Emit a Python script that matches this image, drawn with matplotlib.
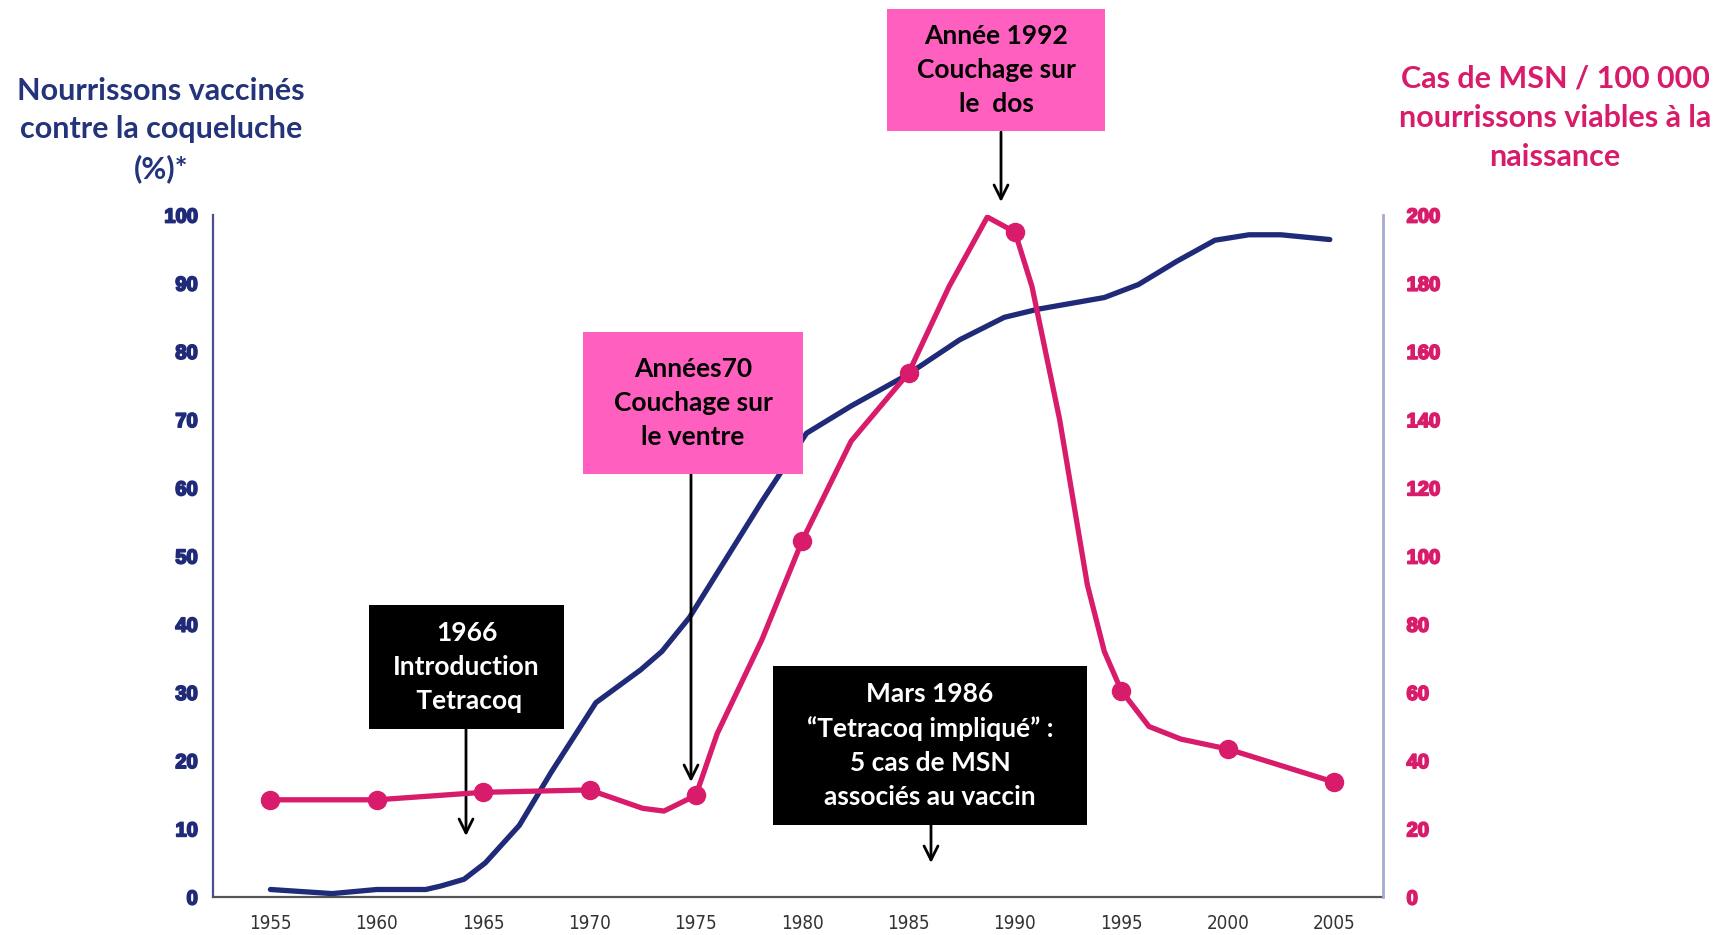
import matplotlib
matplotlib.use('Agg')
import matplotlib.pyplot as plt
import matplotlib.patches as patches
import matplotlib.patheffects as pe

# vaccination coverage (%), left axis
vacc_years = [1955, 1957.9, 1960, 1962.3, 1963, 1964.1, 1965.1, 1966.7, 1968.2, 1970.3,
              1972.4, 1973.4, 1974.7, 1976.5, 1978.1, 1980.2, 1982.3, 1984.9, 1987.4,
              1989.5, 1991.1, 1994.2, 1995.8, 1997.6, 1999.4, 2001, 2002.5, 2004.8]
vacc_pct = [1.1, 0.5, 1.1, 1.1, 1.6, 2.6, 5, 10.5, 18.3, 28.5,
            33.3, 36, 41, 50, 58, 68, 72, 76.5, 81.7,
            85, 86.2, 87.9, 89.8, 93.2, 96.3, 97.1, 97.1, 96.4]

# SIDS cases / 100 000 live births, right axis
msn_years = [1955, 1960, 1965, 1970, 1972.5, 1973.5, 1975, 1976, 1978.1, 1980, 1982.3,
             1985, 1986.9, 1988.7, 1990, 1990.8, 1992.1, 1993.4, 1994.2, 1995,
             1996.3, 1997.8, 2000, 2005]
msn_cases = [28.5, 28.5, 30.7, 31.4, 26, 25.2, 29.8, 47.9, 75.4, 104.5, 133.7,
             153.7, 179, 199.4, 195, 179, 140, 91.6, 72, 60.5,
             50, 46.3, 43.4, 33.7]
marker_years = [1955, 1960, 1965, 1970, 1975, 1980, 1985, 1990, 1995, 2000, 2005]
marker_cases = [28.5, 28.5, 30.7, 31.4, 29.8, 104.5, 153.7, 195, 60.5, 43.4, 33.7]

year_ticks = list(range(1955, 2006, 5))
left_ticks = list(range(0, 101, 10))
right_ticks = list(range(0, 201, 20))

navy = '#1f2a78'
pink = '#d81b6a'
boxpink = '#ff5fbf'
W, H = 1731, 935

def fx(px):
    return px / W

def fy(py):
    return 1 - py / H

fig = plt.figure(figsize=(17.31, 9.35), dpi=100)
ax = fig.add_axes([fx(213), fy(897), fx(1383) - fx(213), fy(215) - fy(897)])
ax2 = ax.twinx()

ax.plot(vacc_years, vacc_pct, color=navy, lw=3.8, solid_capstyle='round',
        solid_joinstyle='round', zorder=3)
ax2.plot(msn_years, msn_cases, color=pink, lw=3.8, solid_capstyle='round',
         solid_joinstyle='round', zorder=3)
ax2.plot(marker_years, marker_cases, 'o', color=pink, ms=13, zorder=4)

ax.set_xlim(1952.3, 2007.3)
ax.set_ylim(0, 100)
ax2.set_ylim(0, 200)

tickfont = ['Liberation Sans', 'DejaVu Sans']
ax.set_xticks(year_ticks, [str(y) for y in year_ticks],
              family=['Liberation Sans Narrow', 'DejaVu Sans'], fontstretch='condensed')
ax.set_yticks(left_ticks, [str(v) for v in left_ticks], family=tickfont, fontweight='bold',
              path_effects=[pe.withStroke(linewidth=1.3, foreground=navy)])
ax2.set_yticks(right_ticks, [str(v) for v in right_ticks], family=tickfont, fontweight='bold',
               path_effects=[pe.withStroke(linewidth=1.3, foreground=pink)])

ax.tick_params(axis='x', length=0, pad=12, labelsize=13.5, labelcolor='#333333')
ax.tick_params(axis='y', length=0, pad=11, labelsize=14.5, labelcolor=navy)
ax2.tick_params(axis='y', length=0, pad=17, labelsize=14.5, labelcolor=pink)

for a in (ax, ax2):
    a.spines['top'].set_visible(False)
ax.spines['left'].set_color('#4a4f90')
ax.spines['left'].set_linewidth(1.6)
ax.spines['bottom'].set_color('#555555')
ax.spines['bottom'].set_linewidth(1.6)
ax.spines['right'].set_visible(False)
ax2.spines['left'].set_visible(False)
ax2.spines['bottom'].set_visible(False)
ax2.spines['right'].set_color('#a8a8d0')
ax2.spines['right'].set_linewidth(2)

font = ['Lato', 'DejaVu Sans']

fig.text(fx(161), fy(130), 'Nourrissons vaccinés\ncontre la coqueluche\n(%)*',
         ha='center', va='center', color='#23347a', fontsize=22, fontweight='bold',
         family=font, linespacing=1.45)
fig.text(fx(1555), fy(118), 'Cas de MSN / 100 000\nnourrissons viables à la\nnaissance',
         ha='center', va='center', color=pink, fontsize=22, fontweight='bold',
         family=font, linespacing=1.5)

# annotation boxes: (x0, y0, x1, y1) in pixels, text, face, text colour, arrow
boxes = [
    ((887, 9, 1105, 131), 'Année 1992\nCouchage sur\nle  dos', boxpink, 'black', (1001, 132, 1001, 202)),
    ((583, 332, 803, 474), 'Années70\nCouchage sur\nle ventre', boxpink, 'black', (691, 474, 691, 782)),
    ((369, 605, 564, 729), '1966\nIntroduction\n Tetracoq', 'black', 'white', (466, 729, 466, 836)),
    ((773, 666, 1087, 825), 'Mars 1986\n\u201cTetracoq impliqué\u201d :\n5 cas de MSN\nassociés au vaccin',
     'black', 'white', (931, 825, 931, 863)),
]
for (x0, y0, x1, y1), txt, face, tcol, arr in boxes:
    fig.patches.append(patches.Rectangle((fx(x0), fy(y1)), fx(x1) - fx(x0), fy(y0) - fy(y1),
                                         transform=fig.transFigure, facecolor=face,
                                         edgecolor='none', zorder=5))
    fig.text(fx((x0 + x1) / 2), fy((y0 + y1) / 2), txt, ha='center', va='center',
             color=tcol, fontsize=19, fontweight='bold', family=font,
             linespacing=1.5, zorder=6)
    ax.annotate('', xy=(fx(arr[2]), fy(arr[3])), xytext=(fx(arr[0]), fy(arr[1])),
                xycoords='figure fraction', textcoords='figure fraction',
                arrowprops=dict(arrowstyle='->', color='black', lw=2,
                                mutation_scale=25, shrinkA=0, shrinkB=0),
                zorder=6, annotation_clip=False)

plt.savefig('out.png', dpi=100)
